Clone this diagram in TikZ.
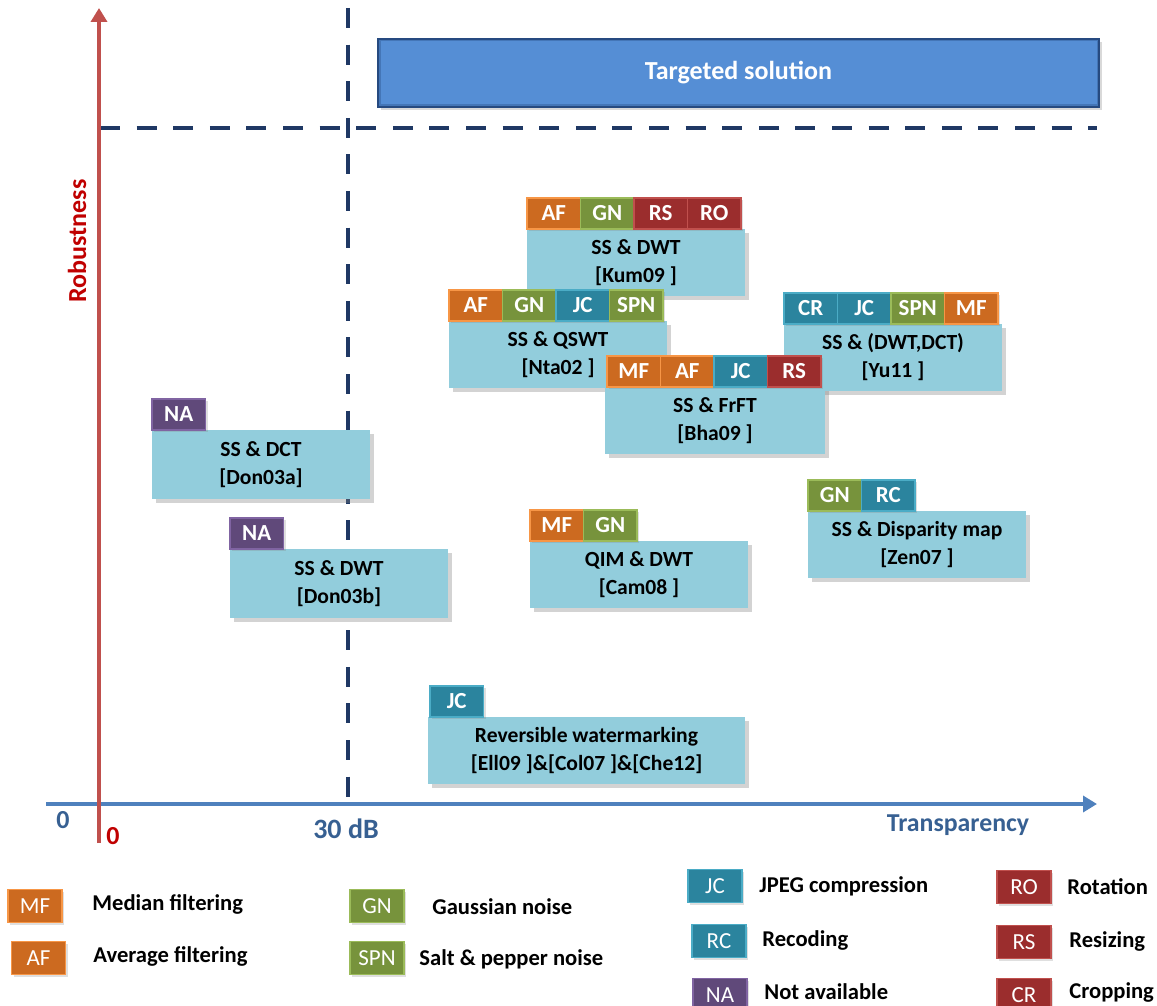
\documentclass[tikz,border=0pt]{standalone}
\usepackage{fontspec}
\setmainfont{Carlito}
\usetikzlibrary{positioning,arrows.meta,shadows}

\definecolor{boxblue}{RGB}{146,205,220}
\definecolor{targetblue}{RGB}{85,142,213}
\definecolor{targetedge}{RGB}{38,74,128}
\definecolor{dashnavy}{RGB}{31,56,100}
\definecolor{axisred}{RGB}{192,80,77}
\definecolor{axisblue}{RGB}{79,129,189}
\definecolor{labelred}{RGB}{192,0,0}
\definecolor{labelblue}{RGB}{55,96,146}
\definecolor{filterfill}{RGB}{204,106,32}
\definecolor{filterline}{RGB}{247,150,70}
\definecolor{noisefill}{RGB}{119,147,60}
\definecolor{noiseline}{RGB}{155,187,89}
\definecolor{codefill}{RGB}{43,132,158}
\definecolor{codeline}{RGB}{75,172,198}
\definecolor{geomfill}{RGB}{155,45,45}
\definecolor{geomline}{RGB}{192,80,77}
\definecolor{nafill}{RGB}{96,73,122}
\definecolor{naline}{RGB}{128,100,162}

\tikzset{
  method/.style={fill=boxblue, anchor=north west, minimum width=109pt, minimum height=33.5pt,
    inner sep=0pt, outer sep=0pt, align=center, font=\bfseries\fontsize{10.8}{14}\selectfont,
    drop shadow={shadow xshift=2pt, shadow yshift=-2pt, opacity=0.35}},
  tag/.style={minimum width=26.75pt, minimum height=15.5pt, inner sep=0pt, outer sep=0pt,
    line width=0.6pt, text=white, font=\bfseries\fontsize{11.5}{12}\selectfont,
    drop shadow={shadow xshift=1pt, shadow yshift=-1pt, opacity=0.25}},
  filtertag/.style={tag, fill=filterfill, draw=filterline},
  noisetag/.style={tag, fill=noisefill, draw=noiseline},
  codetag/.style={tag, fill=codefill, draw=codeline},
  geomtag/.style={tag, fill=geomfill, draw=geomline},
  natag/.style={tag, fill=nafill, draw=naline},
  legtag/.style={minimum width=27pt, minimum height=16.5pt, font=\fontsize{11.5}{12}\selectfont},
  legtext/.style={anchor=west, inner sep=0pt, font=\bfseries\fontsize{11.3}{13}\selectfont},
  dashline/.style={draw=dashnavy, line width=2pt, dash pattern=on 10pt off 8.3pt}
}

\begin{document}
\begin{tikzpicture}[x=0.5pt,y=-0.5pt]
\useasboundingbox (0,0) rectangle (1157,1006);

\coordinate (vtop) at (348,8);
\coordinate (vbot) at (348,800);
\coordinate (hleft) at (100,128);
\coordinate (hright) at (1097,128);
\draw[dashline] (vtop) -- (vbot);
\draw[dashline] (hleft) -- (hright);

\coordinate (xstart) at (46,804);
\coordinate (xend) at (1097,804);
\coordinate (ystart) at (99,843);
\coordinate (yend) at (99,8);
\draw[axisblue, line width=2pt, -{Triangle[width=8pt,length=7pt]}] (xstart) -- (xend);
\draw[axisred, line width=2pt, -{Triangle[width=8pt,length=7pt]}] (ystart) -- (yend);

\node[text=labelblue, font=\bfseries\fontsize{13}{15}\selectfont] (xzero) at (63,820) {0};
\node[text=labelred, font=\bfseries\fontsize{13}{15}\selectfont] (yzero) at (113,836) {0};
\node[text=labelblue, font=\bfseries\fontsize{14}{16}\selectfont] (thirty) at (346,829) {30 dB};
\node[text=labelblue, font=\bfseries\fontsize{12.9}{15}\selectfont] (transp) at (958,825) {Transparency};
\node[text=labelred, rotate=90, font=\bfseries\fontsize{13}{15}\selectfont] (robust) at (77,241) {Robustness};

\node[anchor=north west, fill=targetblue, draw=targetedge, line width=1pt, minimum width=360.5pt,
  minimum height=34pt, text=white, font=\bfseries\fontsize{13}{15}\selectfont,
  drop shadow={shadow xshift=1.5pt, shadow yshift=-1.5pt, opacity=0.3}] (target) at (377,38) {Targeted solution};
\draw[targetedge, line width=1.5pt, opacity=0.35] ([shift={(2,2)}]target.north west) rectangle ([shift={(-2,-2)}]target.south east);

\node[method] (kum) at (527,229) {SS \& DWT\\{}[Kum09 ]};
\node[filtertag, anchor=south west] (kumaf) at (kum.north west) {AF};
\node[noisetag, right=0pt of kumaf] (kumgn) {GN};
\node[geomtag, right=0pt of kumgn] (kumrs) {RS};
\node[geomtag, right=0pt of kumrs] (kumro) {RO};

\node[method] (nta) at (449,321) {SS \& QSWT\\{}[Nta02 ]};
\node[filtertag, anchor=south west] (ntaaf) at (nta.north west) {AF};
\node[noisetag, right=0pt of ntaaf] (ntagn) {GN};
\node[codetag, right=0pt of ntagn] (ntajc) {JC};
\node[noisetag, right=0pt of ntajc] (ntaspn) {SPN};

\node[method] (yu) at (784,324) {SS \& (DWT,DCT)\\{}[Yu11 ]};
\node[codetag, anchor=south west] (yucr) at (yu.north west) {CR};
\node[codetag, right=0pt of yucr] (yujc) {JC};
\node[noisetag, right=0pt of yujc] (yuspn) {SPN};
\node[filtertag, right=0pt of yuspn] (yumf) {MF};

\node[method, minimum width=110pt] (bha) at (605,387) {SS \& FrFT\\{}[Bha09 ]};
\node[filtertag, anchor=south west] (bhamf) at ([xshift=1pt]bha.north west) {MF};
\node[filtertag, right=0pt of bhamf] (bhaaf) {AF};
\node[codetag, right=0pt of bhaaf] (bhajc) {JC};
\node[geomtag, right=0pt of bhajc] (bhars) {RS};

\node[method, minimum height=34.5pt] (dona) at (152,430) {SS \& DCT\\{}[Don03a]};
\node[natag, anchor=south west] (donana) at (dona.north west) {NA};

\node[method, minimum height=34.5pt] (donb) at (230,549) {SS \& DWT\\{}[Don03b]};
\node[natag, anchor=south west] (donbna) at (donb.north west) {NA};

\node[method] (cam) at (530,541) {QIM \& DWT\\{}[Cam08 ]};
\node[filtertag, anchor=south west] (cammf) at (cam.north west) {MF};
\node[noisetag, right=0pt of cammf] (camgn) {GN};

\node[method] (zen) at (808,511) {SS \& Disparity map\\{}[Zen07 ]};
\node[noisetag, anchor=south west] (zengn) at (zen.north west) {GN};
\node[codetag, right=0pt of zengn] (zenrc) {RC};

\node[method, minimum width=158.5pt] (rev) at (428,717) {Reversible watermarking\\{}[Ell09 ]\&[Col07 ]\&[Che12]};
\node[codetag, anchor=south west] (revjc) at ([xshift=1pt]rev.north west) {JC};

\node[filtertag, legtag] (lgmf) at (35,906) {MF};
\node[legtext] (lgmftext) at (92,904) {Median filtering};
\node[filtertag, legtag] (lgaf) at (38.5,958) {AF};
\node[legtext] (lgaftext) at (93,956) {Average filtering};
\node[noisetag, legtag] (lggn) at (377,906) {GN};
\node[legtext] (lggntext) at (432,907) {Gaussian noise};
\node[noisetag, legtag] (lgspn) at (377,958) {SPN};
\node[legtext] (lgspntext) at (419,959) {Salt \& pepper noise};
\node[codetag, legtag] (lgjc) at (715,886) {JC};
\node[legtext] (lgjctext) at (759,886) {JPEG compression};
\node[codetag, legtag] (lgrc) at (719,941) {RC};
\node[legtext] (lgrctext) at (762,940) {Recoding};
\node[natag, legtag] (lgna) at (720,995) {NA};
\node[legtext] (lgnatext) at (764,992) {Not available};
\node[geomtag, legtag] (lgro) at (1024,887) {RO};
\node[legtext] (lgrotext) at (1067,887) {Rotation};
\node[geomtag, legtag] (lgrs) at (1024,942) {RS};
\node[legtext] (lgrstext) at (1069,941) {Resizing};
\node[geomtag, legtag] (lgcr) at (1024,995) {CR};
\node[legtext] (lgcrtext) at (1069,992) {Cropping};
\end{tikzpicture}
\end{document}
